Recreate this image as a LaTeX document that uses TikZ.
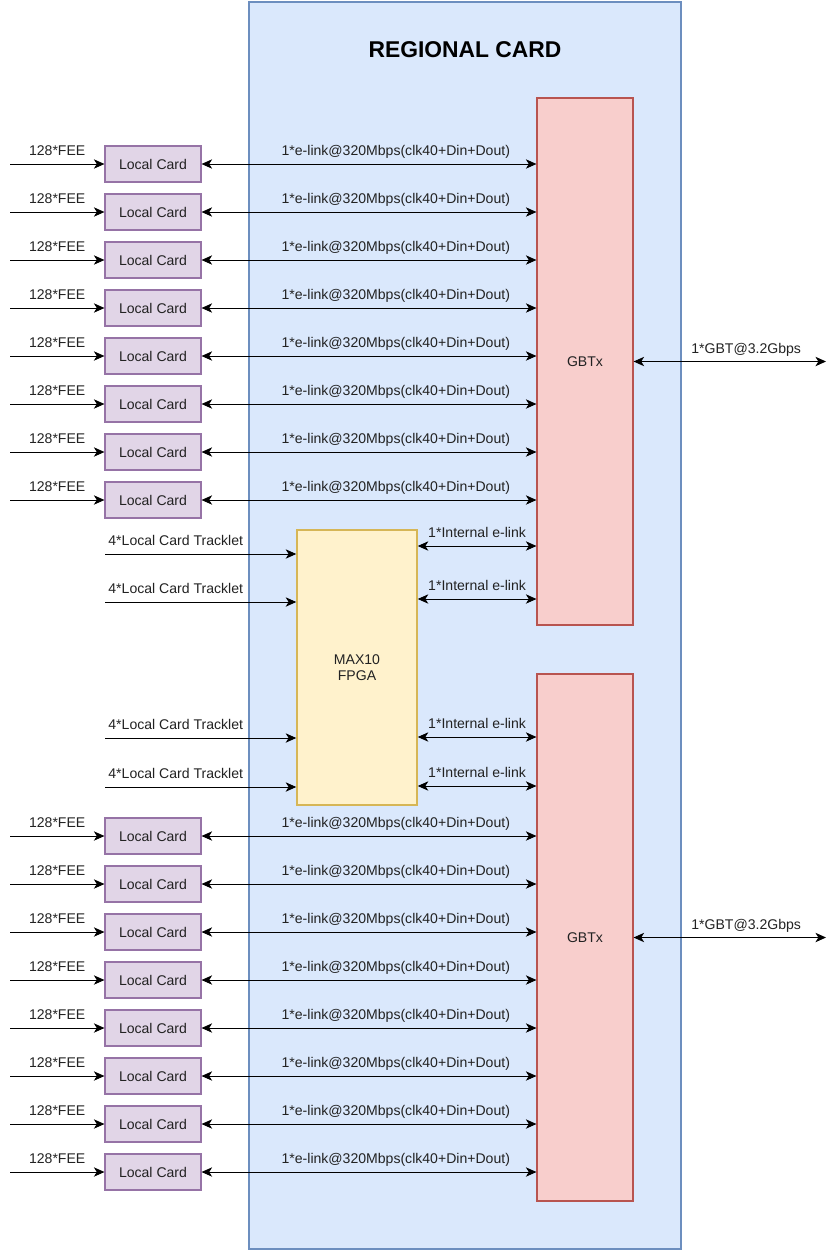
\documentclass[tikz,border=0pt]{standalone}
\usepackage{fontspec}
\setmainfont{Liberation Sans}
\usetikzlibrary{arrows.meta}

\definecolor{regfill}{HTML}{DAE8FC}
\definecolor{regline}{HTML}{6C8EBF}
\definecolor{gbtfill}{HTML}{F8CECC}
\definecolor{gbtline}{HTML}{B85450}
\definecolor{fpgafill}{HTML}{FFF2CC}
\definecolor{fpgaline}{HTML}{D6B656}
\definecolor{lcfill}{HTML}{E1D5E7}
\definecolor{lcline}{HTML}{9673A6}
\definecolor{txt}{HTML}{222222}

\begin{document}
\begin{tikzpicture}[x=0.03cm, y=-0.03cm, line width=0.8pt,
    font=\fontsize{12}{14}\selectfont, text=txt,
    >={Stealth[length=9pt,width=8pt,inset=2.5pt]},
    regional/.style={rectangle, draw=regline, fill=regfill, line width=1.3pt, minimum width=12.96cm, minimum height=37.41cm},
    gbtx/.style={rectangle, draw=gbtline, fill=gbtfill, line width=1pt, minimum width=2.88cm, minimum height=15.81cm},
    fpga/.style={rectangle, draw=fpgaline, fill=fpgafill, line width=1.3pt, minimum width=3.6cm, minimum height=8.25cm, align=center},
    localcard/.style={rectangle, draw=lcline, fill=lcfill, line width=1pt, minimum width=2.88cm, minimum height=1.08cm},
    lbl/.style={above=3.5pt, inner sep=0pt, text depth=3pt}]
    \useasboundingbox (0,0) rectangle (838,1252);

    \node at (465,625.5) [regional] (Regional) {};
    \node at (465,50) [font=\fontsize{19.5}{23}\selectfont\bfseries, text=black] (Title) {REGIONAL CARD};
    \node at (585,361.5) [gbtx] (GbtA) {GBTx};
    \node at (585,937.5) [gbtx] (GbtB) {GBTx};
    \node at (357,667.5) [fpga] (Fpga) {MAX10\\FPGA};

    % local cards with FEE inputs and e-links
    \foreach \i/\y/\g in {1/164/GbtA, 2/212/GbtA, 3/260/GbtA, 4/308/GbtA,
                          5/356/GbtA, 6/404/GbtA, 7/452/GbtA, 8/500/GbtA,
                          9/836/GbtB, 10/884/GbtB, 11/932/GbtB, 12/980/GbtB,
                          13/1028/GbtB, 14/1076/GbtB, 15/1124/GbtB, 16/1172/GbtB} {
        \node at (153,\y) [localcard] (Local\i) {Local Card};
        \coordinate (Fee\i) at (10,\y);
        \draw[->] (Fee\i) -- (Local\i) node[midway, lbl] {128*FEE};
        \draw[<->] (Local\i) -- (Local\i -| \g.west) node[pos=0.58, lbl] {1*e-link@320Mbps(clk40+Din+Dout)};
    }

    % tracklet inputs and internal e-links
    \foreach \i/\yt/\ye/\g in {1/554/546/GbtA, 2/602/599/GbtA, 3/738/737/GbtB, 4/787/786/GbtB} {
        \coordinate (Trk\i) at (105,\yt);
        \coordinate (Int\i) at (357,\ye);
        \draw[->] (Trk\i) -- (Trk\i -| Fpga.west) node[pos=0.37, lbl] {4*Local Card Tracklet};
        \draw[<->] (Int\i -| Fpga.east) -- (Int\i -| \g.west) node[midway, lbl] {1*Internal e-link};
    }

    % GBT links out
    \coordinate (OutA) at (826,361.5);
    \coordinate (OutB) at (826,937.5);
    \draw[<->] (GbtA.east |- OutA) -- (OutA) node[pos=0.585, lbl] {1*GBT@3.2Gbps};
    \draw[<->] (GbtB.east |- OutB) -- (OutB) node[pos=0.585, lbl] {1*GBT@3.2Gbps};
\end{tikzpicture}
\end{document}
